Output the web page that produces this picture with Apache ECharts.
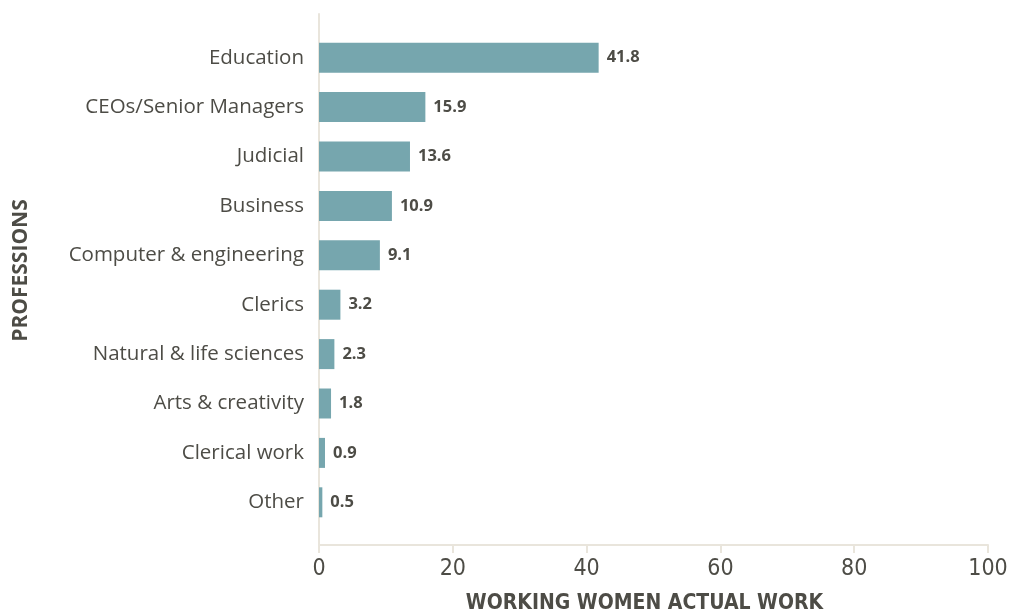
<!DOCTYPE html>
<html>
<head>
<meta charset="utf-8">
<style>
  html, body { margin: 0; padding: 0; background: #ffffff; }
  #chart { width: 1011px; height: 613px; }
</style>
<script src="https://cdn.jsdelivr.net/npm/echarts@6/dist/echarts.min.js"></script>
</head>
<body>
<div id="chart"></div>
<script>
// Share of working women by profession (%)
const professions = [
  'Education',
  'CEOs/Senior Managers',
  'Judicial',
  'Business',
  'Computer & engineering',
  'Clerics',
  'Natural & life sciences',
  'Arts & creativity',
  'Clerical work',
  'Other'
];
const shares = [41.8, 15.9, 13.6, 10.9, 9.1, 3.2, 2.3, 1.8, 0.9, 0.5];
const xTicks = { min: 0, max: 100, interval: 20 };

const textColor = '#4d4c46';
const axisColor = '#e9e5dc';
const barColor = '#76a6ae';
const bodyFont = '"Open Sans", "Noto Sans", sans-serif';
const narrowFont = '"Liberation Sans Narrow", "DejaVu Sans Condensed", "Roboto", sans-serif';

const chart = echarts.init(document.getElementById('chart'));
chart.setOption({
  animation: false,
  grid: [
    // bars
    { left: 319, right: 23, top: 33, bottom: 86, outerBoundsMode: 'none', containLabel: false },
    // frame with visible axes
    { left: 319, right: 23, top: 14, bottom: 68, outerBoundsMode: 'none', containLabel: false }
  ],
  xAxis: [
    {
      gridIndex: 0, type: 'value',
      min: xTicks.min, max: xTicks.max, interval: xTicks.interval,
      show: false
    },
    {
      gridIndex: 1, type: 'value',
      min: xTicks.min, max: xTicks.max, interval: xTicks.interval,
      name: 'WORKING WOMEN ACTUAL WORK',
      nameLocation: 'middle',
      nameGap: 48,
      nameTextStyle: {
        fontFamily: narrowFont, fontWeight: 'bold', fontSize: 21,
        color: textColor, padding: [0, 18, 0, 0]
      },
      axisLine: { show: true, lineStyle: { color: axisColor, width: 2 } },
      axisTick: { show: true, length: 8, lineStyle: { color: axisColor, width: 2 } },
      splitLine: { show: false },
      axisLabel: {
        fontFamily: narrowFont, fontSize: 23, color: textColor, margin: 13
      }
    }
  ],
  yAxis: [
    {
      gridIndex: 0, type: 'category', inverse: true,
      data: professions,
      axisLine: { show: false },
      axisTick: { show: false },
      axisLabel: {
        fontFamily: bodyFont, fontSize: 20.5, color: textColor, margin: 15,
        padding: [0, 0, 4, 0]
      }
    },
    {
      gridIndex: 1, type: 'value',
      name: 'PROFESSIONS',
      nameLocation: 'middle',
      nameGap: 287,
      nameTextStyle: {
        fontFamily: bodyFont, fontWeight: 'bold', fontSize: 21,
        color: textColor, padding: [0, 0, 0, 18]
      },
      axisLine: { show: true, lineStyle: { color: axisColor, width: 2 } },
      axisTick: { show: false },
      axisLabel: { show: false },
      splitLine: { show: false }
    }
  ],
  series: [
    {
      type: 'bar',
      xAxisIndex: 0, yAxisIndex: 0,
      data: shares,
      barWidth: 30,
      itemStyle: { color: barColor },
      label: {
        show: true, position: 'right', distance: 8,
        fontFamily: bodyFont, fontWeight: 'bold', fontSize: 16.5,
        color: textColor,
        formatter: p => p.value.toFixed(1)
      }
    }
  ]
});
</script>
</body>
</html>
